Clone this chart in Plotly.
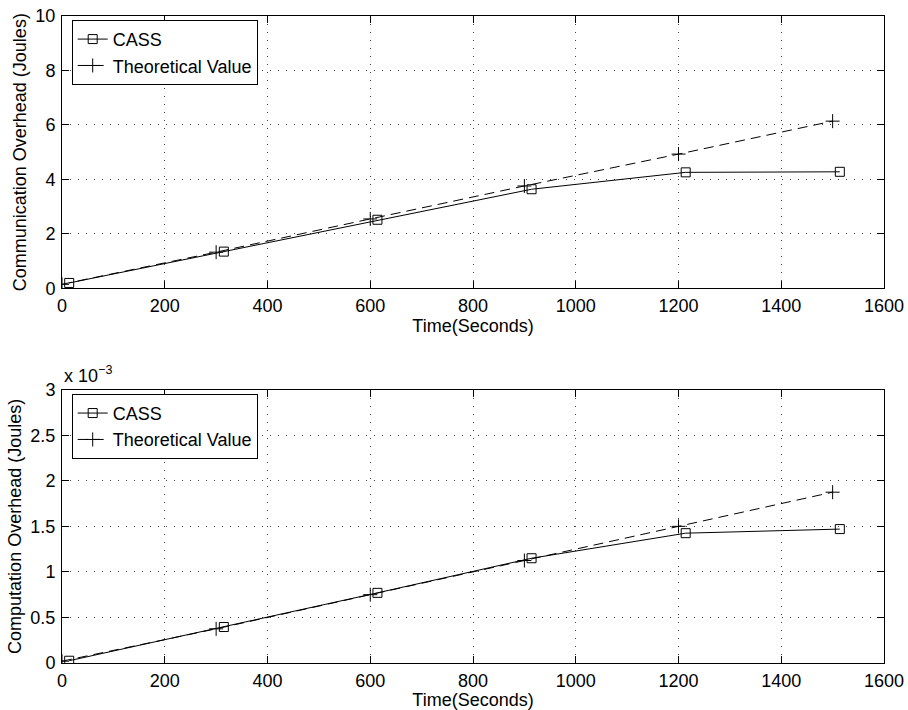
import plotly.graph_objects as go

# Sample times (seconds)
time_theory = [0, 300, 600, 900, 1200, 1500]
time_cass = [14, 315, 614, 914, 1214, 1514]

# Communication overhead (Joules)
comm_cass = [0.20, 1.35, 2.52, 3.64, 4.26, 4.28]
comm_theory = [0.15, 1.33, 2.55, 3.76, 4.93, 6.14]

# Computation overhead (Joules)
comp_cass = [0.025e-3, 0.395e-3, 0.77e-3, 1.15e-3, 1.425e-3, 1.47e-3]
comp_theory = [0.02e-3, 0.375e-3, 0.75e-3, 1.125e-3, 1.50e-3, 1.875e-3]

x_ticks = [0, 200, 400, 600, 800, 1000, 1200, 1400, 1600]
comm_ticks = [0, 2, 4, 6, 8, 10]
comp_ticks = [0, 0.5e-3, 1.0e-3, 1.5e-3, 2.0e-3, 2.5e-3, 3.0e-3]
comp_ticktext = ["0", "0.5", "1", "1.5", "2", "2.5", "3"]

FONT = "Liberation Sans, Arial, Helvetica, sans-serif"
FS = 18

fig = go.Figure()

def add_pair(xa, ya, legend, cass, theory):
    fig.add_trace(go.Scatter(
        x=time_cass, y=cass, name="CASS", mode="lines+markers",
        xaxis=xa, yaxis=ya, legend=legend,
        line=dict(color="black", width=1),
        marker=dict(symbol="square-open", size=9, color="black",
                    line=dict(width=1, color="black")),
    ))
    fig.add_trace(go.Scatter(
        x=time_theory, y=theory, name="Theoretical Value", mode="lines+markers",
        xaxis=xa, yaxis=ya, legend=legend,
        line=dict(color="black", width=1, dash="10px,6px"),
        marker=dict(symbol="cross-thin-open", size=10, color="black",
                    line=dict(width=1, color="black")),
    ))

add_pair("x", "y", "legend", comm_cass, comm_theory)
add_pair("x2", "y2", "legend2", comp_cass, comp_theory)

axis_common = dict(
    showline=True, linecolor="black", linewidth=1, mirror="allticks",
    ticks="inside", ticklen=7, tickcolor="black", tickwidth=1,
    showgrid=True, gridcolor="#444", gridwidth=1, griddash="1px,7px",
    zeroline=False, automargin=False,
    tickfont=dict(family=FONT, size=FS, color="black"),
)

top_dom = [0.579, 1.0]
bot_dom = [0.0, 0.4224]

fig.update_layout(
    template="none",
    width=908, height=710,
    margin=dict(l=62, r=24, t=16, b=47),
    paper_bgcolor="white", plot_bgcolor="white",
    font=dict(family=FONT, size=FS, color="black"),
    showlegend=True,
    xaxis=dict(axis_common, domain=[0, 1], anchor="y", range=[0, 1600],
               tickvals=x_ticks, ticklabelstandoff=1,
               title=dict(text="Time(Seconds)", standoff=0,
                          font=dict(family=FONT, size=FS))),
    yaxis=dict(axis_common, domain=top_dom, anchor="x", range=[0, 10],
               tickvals=comm_ticks, ticklabelstandoff=2,
               title=dict(text="Communication Overhead (Joules)", standoff=4,
                          font=dict(family=FONT, size=FS))),
    xaxis2=dict(axis_common, domain=[0, 1], anchor="y2", range=[0, 1600],
                tickvals=x_ticks, ticklabelstandoff=1,
                title=dict(text="Time(Seconds)", standoff=0,
                           font=dict(family=FONT, size=FS))),
    yaxis2=dict(axis_common, domain=bot_dom, anchor="x2", range=[0, 3.0e-3],
                tickvals=comp_ticks, ticktext=comp_ticktext, ticklabelstandoff=2,
                title=dict(text="Computation Overhead (Joules)", standoff=4,
                           font=dict(family=FONT, size=FS))),
    legend=dict(x=0.0118, y=0.994, xanchor="left", yanchor="top",
                bgcolor="white", bordercolor="black", borderwidth=1,
                itemwidth=30, font=dict(family=FONT, size=FS), tracegroupgap=0),
    legend2=dict(x=0.0118, y=0.416, xanchor="left", yanchor="top",
                 bgcolor="white", bordercolor="black", borderwidth=1,
                 itemwidth=30, font=dict(family=FONT, size=FS), tracegroupgap=0),
    annotations=[dict(
        text="x 10<sup>\u22123</sup>", xref="paper", yref="paper",
        x=0.0, y=bot_dom[1], xanchor="left", yanchor="bottom", yshift=2,
        showarrow=False, font=dict(family=FONT, size=FS, color="black"),
    )],
)

fig.write_html("out.html")
